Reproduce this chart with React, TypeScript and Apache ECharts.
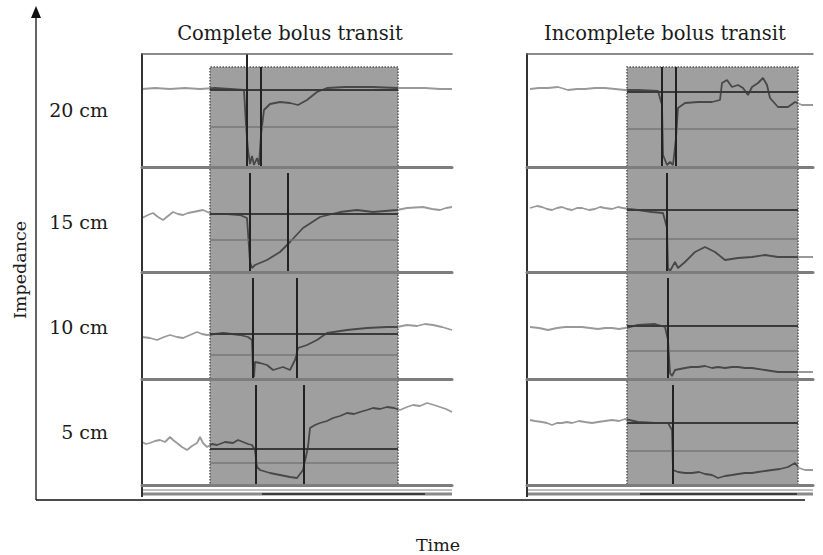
import React, { useEffect, useRef } from "react";
import * as echarts from "echarts";

const channelLabels = ["20 cm", "15 cm", "10 cm", "5 cm"];
const panelTitles = ["Complete bolus transit", "Incomplete bolus transit"];
const yAxisTitle = "Impedance";
const xAxisTitle = "Time";

// Traces: [time sample, impedance (arbitrary units)]
const complete20 = [[0,78],[13,79],[28,78],[43,79],[58,78],[73,79],[88,78],[102,77],[104,42],[106,17],[108,3],[110,11],[112,2],[115,9],[117,2],[119,32],[122,57],[128,63],[138,65],[148,64],[156,62],[165,67],[175,75],[185,79],[203,80],[231,80],[255,79],[268,79],[283,79],[298,78],[310,78]];
const complete15 = [[0,54],[6,57],[11,59],[16,55],[21,52],[26,56],[31,60],[36,58],[41,57],[46,59],[51,60],[56,61],[61,62],[70,58],[85,58],[98,57],[105,54],[108,10],[110,4],[113,7],[125,12],[138,20],[148,30],[161,44],[178,55],[198,60],[215,62],[231,60],[255,62],[265,64],[281,65],[290,63],[298,62],[304,64],[310,65]];
const complete10 = [[0,42],[8,41],[15,39],[22,42],[28,44],[35,42],[41,41],[48,44],[55,47],[60,45],[65,44],[73,45],[81,46],[90,45],[98,44],[106,42],[110,39],[111,9],[112,2],[113,17],[118,16],[125,14],[131,9],[141,12],[148,9],[153,19],[156,31],[165,34],[175,39],[185,46],[205,49],[225,51],[245,52],[255,52],[265,54],[275,53],[283,55],[291,54],[300,52],[310,49]];
const complete5 = [[0,43],[4,41],[8,42],[13,44],[18,45],[23,43],[28,48],[31,45],[35,42],[40,38],[45,35],[50,39],[55,42],[58,48],[61,42],[65,38],[70,41],[75,40],[83,43],[91,42],[96,45],[101,43],[106,41],[110,40],[113,35],[115,18],[118,15],[128,12],[138,10],[148,8],[155,7],[161,15],[166,38],[168,57],[173,60],[178,62],[185,64],[191,67],[198,69],[205,72],[212,71],[218,73],[225,75],[231,77],[238,76],[245,78],[252,77],[258,75],[265,78],[271,80],[278,79],[285,82],[292,80],[298,78],[304,76],[310,73]];

const incomplete20 = [[3,78],[12,79],[21,79],[31,80],[41,77],[50,78],[58,78],[68,79],[78,79],[88,78],[98,77],[111,77],[131,76],[135,62],[136,12],[140,2],[143,5],[146,2],[149,29],[151,59],[158,64],[171,65],[185,65],[193,67],[195,84],[200,87],[205,80],[211,82],[216,79],[221,72],[225,80],[231,84],[236,89],[240,82],[243,69],[251,60],[261,60],[268,65],[275,62],[286,62]];
const incomplete15 = [[3,64],[10,66],[15,65],[20,63],[25,62],[30,64],[35,65],[40,63],[45,62],[50,64],[55,64],[62,62],[68,63],[73,65],[78,64],[85,63],[91,65],[101,63],[111,62],[125,60],[136,59],[140,44],[141,4],[143,1],[148,10],[151,4],[158,10],[168,20],[178,25],[188,20],[198,12],[211,14],[225,15],[238,17],[251,15],[268,15],[286,15]];
const incomplete10 = [[3,52],[12,51],[21,49],[30,51],[38,52],[46,52],[55,52],[63,51],[71,50],[78,51],[85,51],[92,50],[98,51],[111,54],[128,55],[138,52],[141,39],[143,6],[145,3],[148,9],[153,10],[158,11],[164,12],[171,12],[178,13],[185,11],[191,12],[198,11],[205,12],[211,12],[218,11],[225,11],[238,9],[251,7],[268,7],[286,7]];
const incomplete5 = [[3,65],[8,64],[15,63],[20,62],[25,60],[30,62],[35,62],[40,63],[45,62],[52,64],[58,63],[65,62],[71,63],[78,64],[85,65],[92,64],[98,66],[111,63],[128,62],[141,62],[145,55],[146,15],[151,13],[158,12],[165,12],[172,13],[178,11],[185,10],[191,7],[198,9],[205,10],[211,11],[218,12],[225,12],[231,13],[238,14],[245,15],[253,16],[261,18],[268,22],[272,17],[278,15],[286,15]];

// Swallow window (shaded) per panel, in time samples
const completeWindow = [68, 256];
const incompleteWindow = [100, 271];

// Reference levels per channel: [baseline, 50% drop]
const completeRef = [[77, 40], [58, 32], [45, 24], [36, 22]];
const incompleteRef = [[75, 38], [62, 33], [53, 28], [62, 34]];

// Bolus entry / exit cursors per channel
const completeCursors = [[105, 119], [108, 146], [111, 155], [114, 162]];
const incompleteCursors = [[135, 149], [140], [141], [146]];

const channelRange = [113, 105, 107, 106];
const windowTop = 100;

const FONT = "DejaVu Serif";

export default function App() {
  const ref = useRef<HTMLDivElement>(null);
  useEffect(() => {
    if (!ref.current) return;
    const chart = echarts.init(ref.current, null, { renderer: "svg" });

    const panels = [
      { left: 142, width: 310, traces: [complete20, complete15, complete10, complete5], win: completeWindow, refs: completeRef, cursors: completeCursors },
      { left: 527, width: 286, traces: [incomplete20, incomplete15, incomplete10, incomplete5], win: incompleteWindow, refs: incompleteRef, cursors: incompleteCursors },
    ];
    const rowTops = [54, 167, 272, 379];

    const grids: any[] = [];
    const xAxes: any[] = [];
    const yAxes: any[] = [];
    const series: any[] = [];
    const topAxes: any[] = [];

    panels.forEach((p, pi) => {
      p.traces.forEach((data, r) => {
        const idx = pi * 4 + r;
        const H = channelRange[r];
        grids.push({ left: p.left, top: rowTops[r], width: p.width, height: H });
        xAxes.push({
          gridIndex: idx, type: "value", min: 0, max: p.width, z: 5,
          axisLine: { show: true, onZero: false, lineStyle: { color: "#7d7d7d", width: 3 } },
          axisTick: { show: false }, axisLabel: { show: false }, splitLine: { show: false },
        });
        if (r === 0) {
          topAxes.push({
            gridIndex: idx, type: "value", min: 0, max: p.width, position: "top", z: 5,
            axisLine: { show: true, onZero: false, lineStyle: { color: "#666", width: 1.5 } },
            axisTick: { show: false }, axisLabel: { show: false }, splitLine: { show: false },
          });
        }
        yAxes.push({
          gridIndex: idx, type: "value", min: 0, max: H, z: 5,
          axisLine: { show: true, onZero: false, lineStyle: { color: "#333", width: 2 } },
          axisTick: { show: false }, axisLabel: { show: false }, splitLine: { show: false },
        });
        const top = r === 0 ? windowTop : H;
        const [dark, light] = p.refs[r];
        const cursorLines = p.cursors[r].map((c, ci) => {
          const yTop = r === 0 ? (pi === 0 && ci === 0 ? H : windowTop) : H - 6;
          return [{ coord: [c, 0] }, { coord: [c, yTop] }];
        });
        series.push({
          type: "line",
          xAxisIndex: idx,
          yAxisIndex: idx,
          data,
          showSymbol: false,
          lineStyle: { width: 1.8 },
          z: 4,
          markArea: {
            silent: true,
            itemStyle: { color: "#9f9f9f", borderColor: "#555", borderWidth: 1.5, borderType: "dotted" },
            data: [[{ coord: [p.win[0], 0] }, { coord: [p.win[1], top] }]],
          },
          markLine: {
            silent: true,
            symbol: "none",
            label: { show: false },
            data: [
              [{ coord: [p.win[0], dark], lineStyle: { color: "#3a3a3a", width: 2.2, type: "solid" } }, { coord: [p.win[1], dark] }],
              [{ coord: [p.win[0], light], lineStyle: { color: "#777", width: 1.5, type: "solid" } }, { coord: [p.win[1], light] }],
              ...cursorLines.map((l) => [{ ...l[0], lineStyle: { color: "#222", width: 2, type: "solid" } }, l[1]]),
            ],
          },
        });
      });
    });

    const allX = [...xAxes, ...topAxes];

    const txt = (size: number) => `${size}px "${FONT}"`;
    const graphic: any[] = [
      { type: "line", shape: { x1: 36, y1: 16, x2: 36, y2: 500 }, style: { stroke: "#111", lineWidth: 1.3 } },
      { type: "polygon", shape: { points: [[36, 6], [31, 18], [41, 18]] }, style: { fill: "#111" } },
      { type: "line", shape: { x1: 36, y1: 500, x2: 805, y2: 500 }, style: { stroke: "#111", lineWidth: 1.3 } },
      { type: "text", x: 20, y: 270, rotation: Math.PI / 2, style: { text: yAxisTitle, font: txt(17.5), fill: "#1a1a1a", textAlign: "center", textVerticalAlign: "middle" } },
      { type: "text", x: 438, y: 545, style: { text: xAxisTitle, font: txt(17.5), fill: "#1a1a1a", textAlign: "center", textVerticalAlign: "middle" } },
      { type: "text", x: 290, y: 33, style: { text: panelTitles[0], font: txt(19.5), fill: "#1a1a1a", textAlign: "center", textVerticalAlign: "middle" } },
      { type: "text", x: 665, y: 33, style: { text: panelTitles[1], font: txt(19.5), fill: "#1a1a1a", textAlign: "center", textVerticalAlign: "middle" } },
      ...channelLabels.map((t, i) => ({
        type: "text", x: 108, y: [110, 222, 327, 432][i],
        style: { text: t, font: txt(19), fill: "#1a1a1a", textAlign: "right", textVerticalAlign: "middle" },
      })),
      // recording footer strip
      { type: "line", shape: { x1: 142, y1: 490, x2: 452, y2: 490 }, style: { stroke: "#aaa", lineWidth: 1.5 } },
      { type: "line", shape: { x1: 142, y1: 494, x2: 452, y2: 494 }, style: { stroke: "#8a8a8a", lineWidth: 3 } },
      { type: "line", shape: { x1: 262, y1: 494, x2: 425, y2: 494 }, style: { stroke: "#222", lineWidth: 1.5 } },
      { type: "line", shape: { x1: 527, y1: 490, x2: 813, y2: 490 }, style: { stroke: "#aaa", lineWidth: 1.5 } },
      { type: "line", shape: { x1: 527, y1: 494, x2: 813, y2: 494 }, style: { stroke: "#8a8a8a", lineWidth: 3 } },
      { type: "line", shape: { x1: 640, y1: 494, x2: 797, y2: 494 }, style: { stroke: "#222", lineWidth: 1.5 } },
      { type: "line", shape: { x1: 142, y1: 484, x2: 142, y2: 497 }, style: { stroke: "#333", lineWidth: 2 } },
      { type: "line", shape: { x1: 527, y1: 484, x2: 527, y2: 497 }, style: { stroke: "#333", lineWidth: 2 } },
    ];

    const mkPieces = (w: number[]) => [
      { lt: w[0], color: "#999" },
      { gte: w[0], lte: w[1], color: "#484848" },
      { gt: w[1], color: "#999" },
    ];

    chart.setOption({
      animation: false,
      backgroundColor: "#fff",
      grid: grids,
      xAxis: allX,
      yAxis: yAxes,
      visualMap: [
        { type: "piecewise", show: false, dimension: 0, seriesIndex: [0, 1, 2, 3], pieces: mkPieces(completeWindow) },
        { type: "piecewise", show: false, dimension: 0, seriesIndex: [4, 5, 6, 7], pieces: mkPieces(incompleteWindow) },
      ],
      series,
      graphic,
    });
    return () => chart.dispose();
  }, []);
  return <div ref={ref} style={{ position: "fixed", left: 0, top: 0, width: 823, height: 555 }} />;
}
